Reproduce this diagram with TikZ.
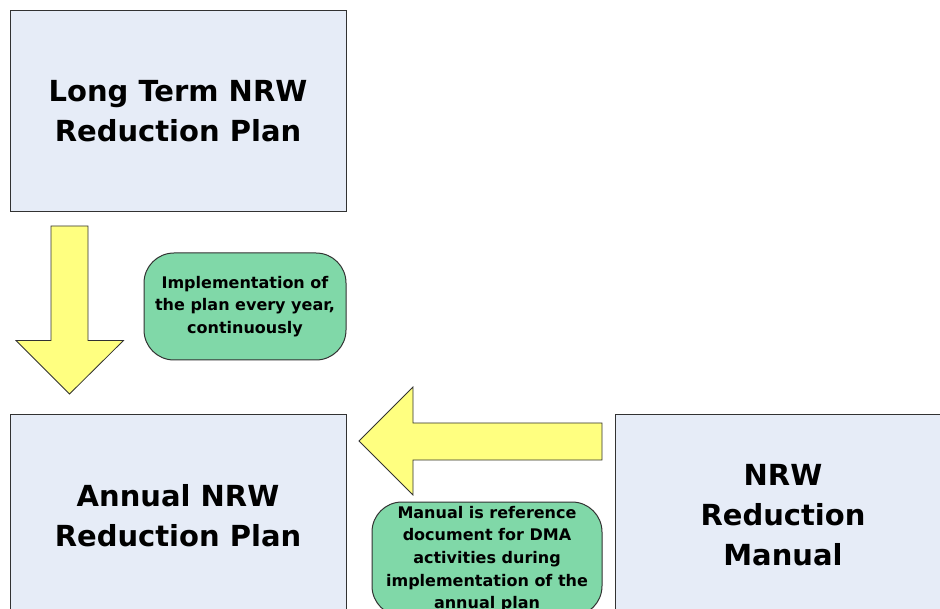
\documentclass[tikz,border=0pt]{standalone}
\usepackage{fontspec}
\setmainfont{DejaVu Sans}
\definecolor{boxblue}{RGB}{230,236,247}
\definecolor{notegreen}{RGB}{128,216,168}
\definecolor{arrowyellow}{RGB}{255,255,128}
\definecolor{edgegray}{RGB}{50,50,50}
\begin{document}
\begin{tikzpicture}[x=1pt,y=-1pt,
  planbox/.style={draw=edgegray, line width=1pt, fill=boxblue, rectangle,
    minimum width=336pt, minimum height=201pt, inner sep=0pt,
    align=center, font=\fontsize{29}{40}\selectfont\bfseries},
  note/.style={draw=edgegray, line width=1pt, fill=notegreen, rectangle,
    rounded corners=30pt, inner sep=0pt, align=center,
    font=\fontsize{16}{22.6}\selectfont\bfseries},
  blockarrow/.style={draw=edgegray, line width=0.8pt, fill=arrowyellow, line join=miter}]
\clip (0,0) rectangle (940,609);
\fill[white] (0,0) rectangle (940,609);

% plan documents
\node[planbox] (longterm) at (178,111.5) {Long Term NRW\\Reduction Plan};
\node[planbox] (annual) at (178,515.5) {Annual NRW\\Reduction Plan};
\node[planbox] (manual) at (783,515.5) {NRW\\Reduction\\Manual};

% explanatory notes
\node[note, minimum width=202pt, minimum height=107pt] (yearly) at (245,306.5)
  {Implementation of\\the plan every year,\\continuously};
\node[note, minimum width=230pt, minimum height=114pt] (reference) at (487,559)
  {Manual is reference\\document for DMA\\activities during\\implementation of the\\annual plan};

% block arrows
\draw[blockarrow] (51,226) -- (88,226) -- (88,340.5) -- (123.5,340.5)
  -- (69.5,394) -- (16,340.5) -- (51,340.5) -- cycle;
\draw[blockarrow] (602,423) -- (602,460) -- (413,460) -- (413,495)
  -- (359,441) -- (413,387) -- (413,423) -- cycle;
\end{tikzpicture}
\end{document}
